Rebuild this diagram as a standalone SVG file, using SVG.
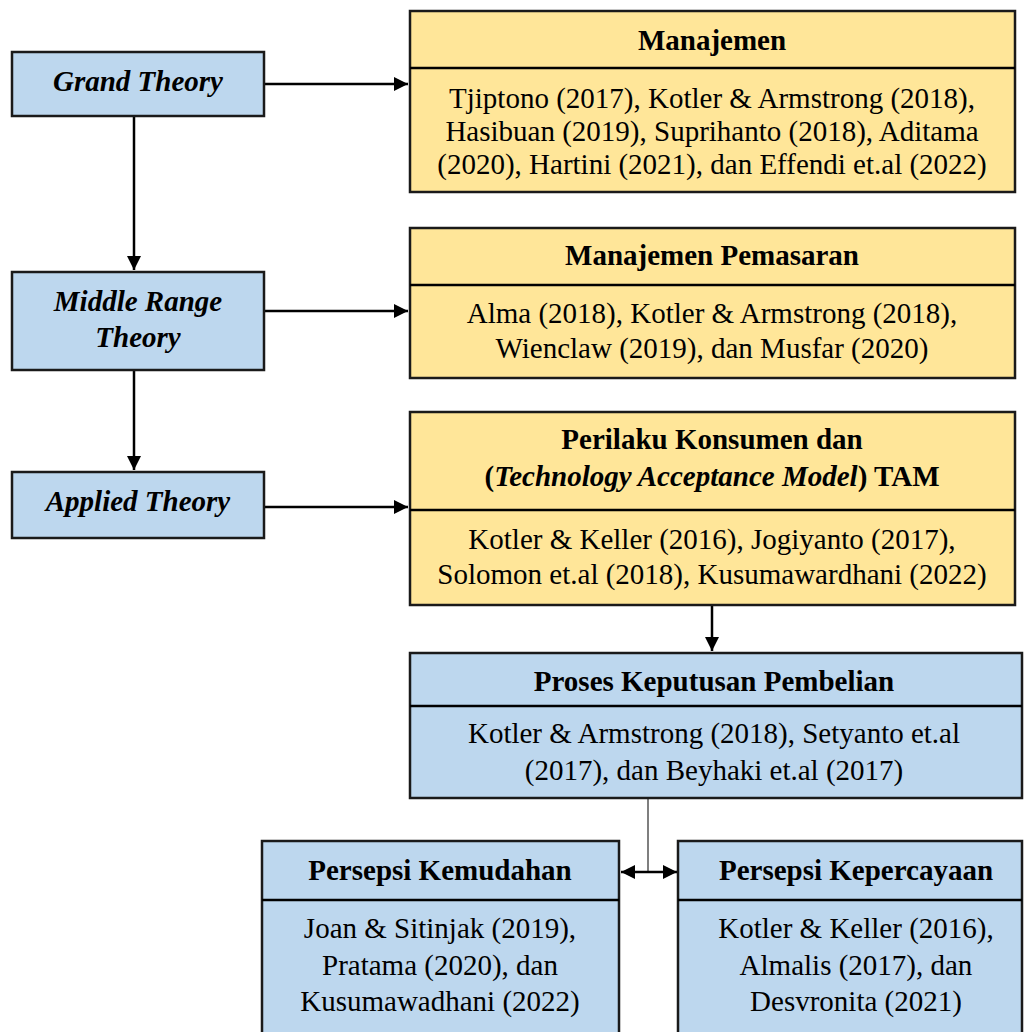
<svg xmlns="http://www.w3.org/2000/svg" width="1024" height="1032" viewBox="0 0 1024 1032">
<defs>
<style>
.blue{fill:#BDD7EE;stroke:#1a1a1a;stroke-width:2.5}
.yel{fill:#FFE699;stroke:#1a1a1a;stroke-width:2.5}
.t{font-family:"Liberation Serif","Times New Roman",serif;font-size:29px;fill:#000;text-anchor:middle}
.b{font-weight:bold}
.i{font-style:italic}
.ln{stroke:#000;stroke-width:2.5;fill:none}
</style>
<marker id="ah2" viewBox="0 0 10 10" refX="10" refY="5" markerWidth="14" markerHeight="14" markerUnits="userSpaceOnUse" orient="auto-start-reverse">
<path d="M0,0 L10,5 L0,10 z" fill="#000"/>
</marker>
</defs>
<rect width="1024" height="1032" fill="#fff"/>
<g id="connectors">
<line class="ln" x1="264" y1="84" x2="408" y2="84" marker-end="url(#ah2)"/>
<line class="ln" x1="134" y1="116" x2="134" y2="270" marker-end="url(#ah2)"/>
<line class="ln" x1="264" y1="311" x2="408" y2="311" marker-end="url(#ah2)"/>
<line class="ln" x1="134" y1="370" x2="134" y2="470" marker-end="url(#ah2)"/>
<line class="ln" x1="264" y1="507" x2="408" y2="507" marker-end="url(#ah2)"/>
<line class="ln" x1="712" y1="605" x2="712" y2="651" marker-end="url(#ah2)"/>
<line x1="648" y1="798" x2="648" y2="872" stroke="#555" stroke-width="1.5"/>
<line class="ln" x1="621" y1="872" x2="677" y2="872" marker-start="url(#ah2)" marker-end="url(#ah2)"/>
</g>
<g id="grand-theory">
<rect class="blue" x="12" y="52" width="252" height="64"/>
<text class="t b i" x="138" y="91">Grand Theory</text>
</g>
<g id="middle-range-theory">
<rect class="blue" x="12" y="272" width="252" height="98"/>
<text class="t b i" x="138" y="311">Middle Range</text>
<text class="t b i" x="138" y="347">Theory</text>
</g>
<g id="applied-theory">
<rect class="blue" x="12" y="472" width="252" height="66"/>
<text class="t b i" x="138" y="511">Applied Theory</text>
</g>
<g id="manajemen">
<rect class="yel" x="410" y="11" width="605" height="181"/>
<line class="ln" x1="410" y1="68" x2="1015" y2="68"/>
<text class="t b" x="712" y="50">Manajemen</text>
<text class="t" x="712" y="108">Tjiptono (2017), Kotler &amp; Armstrong (2018),</text>
<text class="t" x="712" y="141">Hasibuan (2019), Suprihanto (2018), Aditama</text>
<text class="t" x="712" y="174">(2020), Hartini (2021), dan Effendi et.al (2022)</text>
</g>
<g id="manajemen-pemasaran">
<rect class="yel" x="410" y="228" width="605" height="150"/>
<line class="ln" x1="410" y1="285" x2="1015" y2="285"/>
<text class="t b" x="712" y="265">Manajemen Pemasaran</text>
<text class="t" x="712" y="323">Alma (2018), Kotler &amp; Armstrong (2018),</text>
<text class="t" x="712" y="358">Wienclaw (2019), dan Musfar (2020)</text>
</g>
<g id="perilaku-konsumen">
<rect class="yel" x="410" y="412" width="605" height="193"/>
<line class="ln" x1="410" y1="510" x2="1015" y2="510"/>
<text class="t b" x="712" y="449">Perilaku Konsumen dan</text>
<text class="t b" x="712" y="486">(<tspan class="i">Technology Acceptance Model</tspan>) TAM</text>
<text class="t" x="712" y="549">Kotler &amp; Keller (2016), Jogiyanto (2017),</text>
<text class="t" x="712" y="584">Solomon et.al (2018), Kusumawardhani (2022)</text>
</g>
<g id="proses-keputusan">
<rect class="blue" x="410" y="653" width="612" height="145"/>
<line class="ln" x1="410" y1="706" x2="1022" y2="706"/>
<text class="t b" x="714" y="691">Proses Keputusan Pembelian</text>
<text class="t" x="714" y="743">Kotler &amp; Armstrong (2018), Setyanto et.al</text>
<text class="t" x="714" y="780">(2017), dan Beyhaki et.al (2017)</text>
</g>
<g id="persepsi-kemudahan">
<rect class="blue" x="262" y="841" width="357" height="200"/>
<line class="ln" x1="262" y1="900" x2="619" y2="900"/>
<text class="t b" x="440" y="880">Persepsi Kemudahan</text>
<text class="t" x="440" y="938">Joan &amp; Sitinjak (2019),</text>
<text class="t" x="440" y="975">Pratama (2020), dan</text>
<text class="t" x="440" y="1011">Kusumawadhani (2022)</text>
</g>
<g id="persepsi-kepercayaan">
<rect class="blue" x="678" y="841" width="344" height="200"/>
<line class="ln" x1="678" y1="900" x2="1022" y2="900"/>
<text class="t b" x="856" y="880">Persepsi Kepercayaan</text>
<text class="t" x="856" y="938">Kotler &amp; Keller (2016),</text>
<text class="t" x="856" y="975">Almalis (2017), dan</text>
<text class="t" x="856" y="1011">Desvronita (2021)</text>
</g>
</svg>
